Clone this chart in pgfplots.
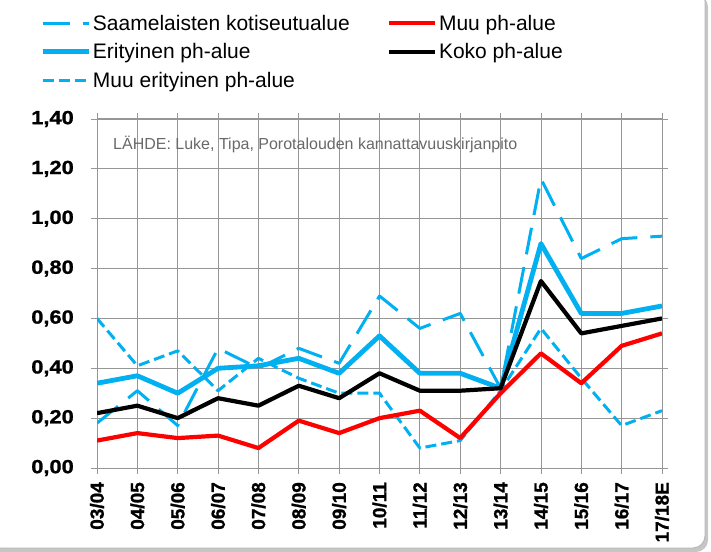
\documentclass[border=0pt]{standalone}
\usepackage{pgfplots}
\pgfplotsset{compat=1.18}
\usepackage{fontspec}
\setmainfont{Liberation Sans}
\newfontfamily\ytickfont{Liberation Sans}[FakeStretch=1.15, BoldFeatures={FakeBold=1.2}]
\newfontfamily\xtickfont{Liberation Sans}[BoldFeatures={FakeBold=1.2}]
\definecolor{cblue}{RGB}{0,176,240}
\definecolor{gridgray}{RGB}{150,150,150}
\definecolor{srcgray}{RGB}{105,105,105}

\begin{document}
\begin{tikzpicture}
\path[use as bounding box] (0pt,0pt) rectangle (711pt,551pt);
\fill[gray!45, rounded corners=12pt] (-12pt,-1pt) rectangle (708pt,556pt);
\filldraw[fill=white, draw=gray!55, line width=1pt, rounded corners=12pt] (-12pt,3pt) rectangle (705pt,562pt);
\begin{axis}[
  at={(97pt,83pt)}, anchor=south west,
  scale only axis, width=565pt, height=349pt,
  xmin=0, xmax=14, ymin=0, ymax=1.4,
  xtick={0,...,14},
  xticklabels={03/04,04/05,05/06,06/07,07/08,08/09,09/10,10/11,11/12,12/13,13/14,14/15,15/16,16/17,17/18E},
  ytick={0,0.2,0.4,0.6,0.8,1.0,1.2,1.4},
  grid=major,
  grid style={gridgray, line width=0.8pt},
  axis line style={gridgray, line width=1pt},
  tick style={gridgray, line width=0.8pt},
  tick align=outside, major tick length=6pt,
  /pgf/number format/assume math mode=true,
  yticklabel shift=17pt,
  xticklabel shift=8pt,
  yticklabel style={font=\ytickfont\bfseries\fontsize{19}{19}\selectfont, inner sep=0pt,
    /pgf/number format/fixed, /pgf/number format/fixed zerofill,
    /pgf/number format/precision=2, /pgf/number format/use comma},
  xticklabel style={font=\xtickfont\bfseries\fontsize{19}{19}\selectfont, rotate=90, anchor=east, inner sep=0pt},
  legend columns=2,
  legend cell align=left,
  legend style={at={(-0.1009,1.298)}, anchor=north west, draw=none, fill=none, inner sep=0pt,
    font=\fontsize{21}{21}\selectfont, row sep=9pt,
    nodes={inner sep=0pt, text height=15pt, text depth=4.5pt},
    /tikz/column 1/.style={column sep=2pt},
    /tikz/column 2/.style={column sep=37pt},
    /tikz/column 3/.style={column sep=2pt}},
  legend image code/.code={\draw[#1] (0pt,1.75pt) -- (46pt,1.75pt);},
  every axis plot/.append style={line join=round},
]
\addlegendimage{cblue, line width=3pt, dash pattern=on 27pt off 13pt}
\addlegendentry{Saamelaisten kotiseutualue}
\addlegendimage{red, line width=4.2pt}
\addlegendentry{Muu ph-alue}
\addlegendimage{cblue, line width=4.8pt}
\addlegendentry{Erityinen ph-alue}
\addlegendimage{black, line width=4.2pt}
\addlegendentry{Koko ph-alue}
\addlegendimage{cblue, line width=3pt, dash pattern=on 11pt off 5pt}
\addlegendentry{Muu erityinen ph-alue}

% Saamelaisten kotiseutualue
\addplot[forget plot, cblue, line width=3pt, dash pattern=on 27pt off 13pt] coordinates {
(0,0.18) (1,0.31) (2,0.17) (3,0.48) (4,0.40) (5,0.48) (6,0.42) (7,0.69) (8,0.56) (9,0.62) (10,0.32) (11,1.16) (12,0.84) (13,0.92) (14,0.93)};
% Erityinen ph-alue
\addplot[forget plot, cblue, line width=4.8pt] coordinates {
(0,0.34) (1,0.37) (2,0.30) (3,0.40) (4,0.41) (5,0.44) (6,0.38) (7,0.53) (8,0.38) (9,0.38) (10,0.32) (11,0.90) (12,0.62) (13,0.62) (14,0.65)};
% Muu erityinen ph-alue
\addplot[forget plot, cblue, line width=3pt, dash pattern=on 11pt off 5pt] coordinates {
(0,0.60) (1,0.41) (2,0.47) (3,0.31) (4,0.44) (5,0.36) (6,0.30) (7,0.30) (8,0.08) (9,0.11) (10,0.31) (11,0.56) (12,0.36) (13,0.17) (14,0.23)};
% Muu ph-alue
\addplot[forget plot, red, line width=4.2pt] coordinates {
(0,0.11) (1,0.14) (2,0.12) (3,0.13) (4,0.08) (5,0.19) (6,0.14) (7,0.20) (8,0.23) (9,0.12) (10,0.30) (11,0.46) (12,0.34) (13,0.49) (14,0.54)};
% Koko ph-alue
\addplot[forget plot, black, line width=4.2pt] coordinates {
(0,0.22) (1,0.25) (2,0.20) (3,0.28) (4,0.25) (5,0.33) (6,0.28) (7,0.38) (8,0.31) (9,0.31) (10,0.32) (11,0.75) (12,0.54) (13,0.57) (14,0.60)};

\node[anchor=base west, inner sep=0pt, text=srcgray, font=\fontsize{16}{16}\selectfont]
  at (rel axis cs:0.0283,0.914) {LÄHDE: Luke, Tipa, Porotalouden kannattavuuskirjanpito};
\end{axis}
\end{tikzpicture}
\end{document}
